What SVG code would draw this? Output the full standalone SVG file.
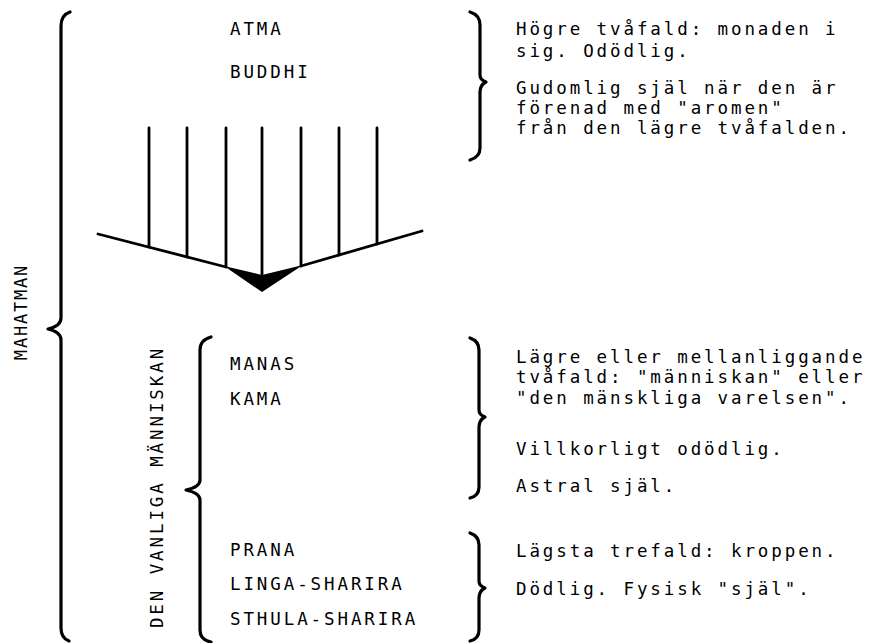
<svg xmlns="http://www.w3.org/2000/svg" width="869" height="643" viewBox="0 0 869 643">
<style>
.t{font-family:"DejaVu Sans Mono","Liberation Mono",monospace;font-size:17.5px;letter-spacing:2.9px;fill:#000}
.v{font-family:"DejaVu Sans Mono","Liberation Mono",monospace;font-size:17px;fill:#000}
.b{fill:none;stroke:#000;stroke-width:3.2;stroke-linecap:round;stroke-linejoin:round}
.l{stroke:#000;stroke-width:2.8;stroke-linecap:round}
</style>
<rect width="869" height="643" fill="#fff"/>
<g id="mahatman">
<path class="b" d="M 70 12 Q 61 15 61 26 L 61 318 Q 61 326 48 329 Q 61 332 61 340 L 61 628 Q 61 638 69 641"/>
<text class="v" letter-spacing="1.8" transform="translate(27,312) rotate(-90)" text-anchor="middle">MAHATMAN</text>
</g>
<g id="vanliga">
<path class="b" d="M 211 337 Q 200 340 200 350 L 200 480 Q 200 487 186 490 Q 200 493 200 500 L 200 630 Q 200 640 211 642"/>
<text class="t" transform="translate(163,487) rotate(-90)" text-anchor="middle">DEN VANLIGA MÄNNISKAN</text>
</g>
<g id="atma-buddhi">
<text class="t" x="230" y="35">ATMA</text>
<text class="t" x="230" y="78">BUDDHI</text>
</g>
<g id="fork">
<line class="l" x1="149" y1="128" x2="149" y2="247"/>
<line class="l" x1="187" y1="128" x2="187" y2="257"/>
<line class="l" x1="226" y1="128" x2="226" y2="267"/>
<line class="l" x1="262" y1="128" x2="262" y2="280"/>
<line class="l" x1="301" y1="128" x2="301" y2="266"/>
<line class="l" x1="339" y1="128" x2="339" y2="255"/>
<line class="l" x1="377" y1="128" x2="377" y2="244"/>
<line class="l" x1="98" y1="234" x2="226" y2="267"/>
<line class="l" x1="301" y1="266" x2="422" y2="231"/>
<polygon points="224,266 262,292 303,265 262,275" fill="#000"/>
</g>
<g id="higher">
<path class="b" d="M 470 12 Q 480 15 480 25 L 480 75 Q 480 80 486 82 Q 480 85 480 92 L 480 148 Q 480 157 470 160"/>
<text class="t" x="516" y="35">Högre tvåfald: monaden i</text>
<text class="t" x="516" y="57">sig. Odödlig.</text>
<text class="t" x="516" y="94">Gudomlig själ när den är</text>
<text class="t" x="516" y="114">förenad med "aromen"</text>
<text class="t" x="516" y="134">från den lägre tvåfalden.</text>
</g>
<g id="manas-kama">
<text class="t" x="230" y="370">MANAS</text>
<text class="t" x="230" y="405">KAMA</text>
<path class="b" d="M 470 338 Q 479 341 479 350 L 479 410 Q 479 415 485 417 Q 479 420 479 427 L 479 487 Q 479 496 470 498"/>
<text class="t" x="516" y="363">Lägre eller mellanliggande</text>
<text class="t" x="516" y="383">tvåfald: "människan" eller</text>
<text class="t" x="516" y="404">"den mänskliga varelsen".</text>
<text class="t" x="516" y="455">Villkorligt odödlig.</text>
<text class="t" x="516" y="492">Astral själ.</text>
</g>
<g id="lower">
<text class="t" x="230" y="556">PRANA</text>
<text class="t" x="230" y="590">LINGA-SHARIRA</text>
<text class="t" x="230" y="625">STHULA-SHARIRA</text>
<path class="b" d="M 470 533 Q 479 536 479 545 L 479 581 Q 479 586 485 588 Q 479 591 479 598 L 479 630 Q 479 639 470 641"/>
<text class="t" x="516" y="557">Lägsta trefald: kroppen.</text>
<text class="t" x="516" y="595">Dödlig. Fysisk "själ".</text>
</g>
</svg>
